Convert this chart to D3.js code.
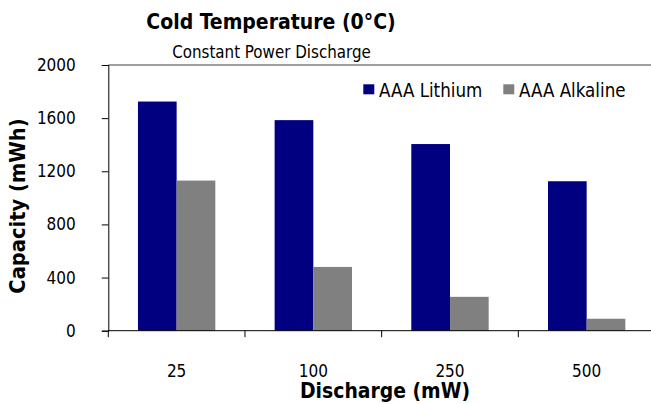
<!DOCTYPE html>
<html><head><meta charset="utf-8">
<script src="https://cdn.jsdelivr.net/npm/d3@7"></script>
<style>body{margin:0;background:#fff}svg{display:block}text{font-stretch:condensed}</style>
</head><body>
<script>
const categories = ["25", "100", "250", "500"];
const seriesNames = ["AAA Lithium", "AAA Alkaline"];
const lithium = [1725, 1585, 1405, 1125];
const alkaline = [1130, 480, 255, 90];
const yTicks = [0, 400, 800, 1200, 1600, 2000];
const colors = ["#000080", "#808080"];

(function () {
const W = 651, H = 404;
const font = "'DejaVu Sans Condensed', 'DejaVu Sans', Verdana, sans-serif";
const svg = d3.select("body").append("svg").attr("width", W).attr("height", H);

const pLeft = 108.3, pRight = 655, pTop = 65, pBottom = 330.7;
const x = d3.scaleBand().domain(categories).range([pLeft, pRight]).paddingInner(0.434).paddingOuter(0.217);
const xs = d3.scaleBand().domain(seriesNames).range([0, x.bandwidth()]);
const y = d3.scaleLinear().domain([0, 2000]).range([pBottom, pTop]);

svg.append("line").attr("x1", pLeft).attr("x2", W).attr("y1", pTop).attr("y2", pTop)
  .attr("stroke", "#404040").attr("stroke-width", 1);

const data = categories.map((c, i) => ({c, vals: [lithium[i], alkaline[i]]}));
const g = svg.append("g");
g.selectAll("g.cat").data(data).join("g").attr("class", "cat")
  .attr("transform", d => `translate(${x(d.c)},0)`)
  .selectAll("rect").data(d => d.vals.map((v, j) => ({v, s: seriesNames[j], j})))
  .join("rect")
  .attr("x", d => xs(d.s)).attr("width", xs.bandwidth())
  .attr("y", d => y(d.v)).attr("height", d => pBottom - y(d.v))
  .attr("fill", d => colors[d.j]);

const yAxis = d3.axisLeft(y).tickValues(yTicks).tickSize(6.5).tickPadding(26).tickFormat(d3.format("d"));
const ya = svg.append("g").attr("transform", `translate(${pLeft},0)`).call(yAxis);
ya.select(".domain").attr("stroke", "#000");
ya.selectAll(".tick line").attr("stroke", "#000");
ya.selectAll("text").attr("font-family", font).attr("font-size", 17).attr("fill", "#000");

svg.append("line").attr("x1", pLeft).attr("x2", W).attr("y1", pBottom).attr("y2", pBottom).attr("stroke", "#000");
const step = x.step();
const bounds = categories.map(c => x(c) - x.paddingOuter() * step);
svg.selectAll("line.xt").data(bounds).join("line").attr("class", "xt")
  .attr("x1", d => d).attr("x2", d => d).attr("y1", pBottom).attr("y2", pBottom + 6.5)
  .attr("stroke", "#000");
svg.selectAll("text.xl").data(categories).join("text").attr("class", "xl")
  .attr("x", d => x(d) + x.bandwidth() / 2).attr("y", 376.5)
  .attr("text-anchor", "middle").attr("font-family", font).attr("font-size", 17)
  .text(d => d);

svg.append("text").attr("x", 271).attr("y", 29).attr("text-anchor", "middle")
  .attr("font-family", font).attr("font-weight", "bold").attr("font-size", 21)
  .text("Cold Temperature (0°C)");
svg.append("text").attr("x", 271.5).attr("y", 58).attr("text-anchor", "middle")
  .attr("font-family", font).attr("font-size", 16.8)
  .text("Constant Power Discharge");
svg.append("text").attr("x", 385).attr("y", 398).attr("text-anchor", "middle")
  .attr("font-family", font).attr("font-weight", "bold").attr("font-size", 20.9)
  .text("Discharge (mW)");
svg.append("text").attr("transform", "translate(25,206) rotate(-90)").attr("text-anchor", "middle")
  .attr("font-family", font).attr("font-weight", "bold").attr("font-size", 21.7)
  .text("Capacity (mWh)");

const legX = [363.3, 503.3];
const lg = svg.selectAll("g.leg").data(seriesNames).join("g").attr("class", "leg")
  .attr("transform", (d, i) => `translate(${legX[i]},84.3)`);
lg.append("rect").attr("width", 11).attr("height", 10).attr("fill", (d, i) => colors[i]);
lg.append("text").attr("x", 15.7).attr("y", 12.4).attr("font-family", font).attr("font-size", 18.6)
  .text(d => d);
})();
</script>
</body></html>
